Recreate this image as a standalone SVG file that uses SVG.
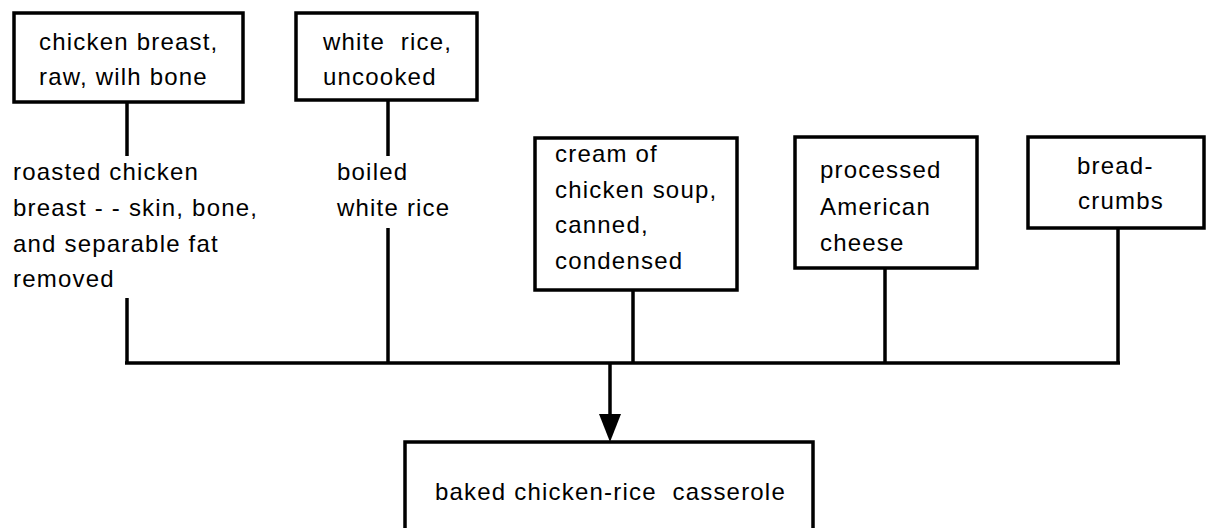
<svg xmlns="http://www.w3.org/2000/svg" width="1208" height="528" viewBox="0 0 1208 528">
<style>
.box{fill:#fff;stroke:#000;stroke-width:3.5}
.t{font-family:"Liberation Sans",Arial,sans-serif;font-size:24px;letter-spacing:1.2px;fill:#000;white-space:pre}
.ln{stroke:#000;stroke-width:3.5;fill:none}
.ah{fill:#000}
</style>
<rect width="1208" height="528" fill="#fff"/>
<g id="connectors">
<line class="ln" x1="127" y1="102" x2="127" y2="156"/>
<line class="ln" x1="127" y1="298" x2="127" y2="363"/>
<line class="ln" x1="388" y1="100" x2="388" y2="156"/>
<line class="ln" x1="388" y1="228" x2="388" y2="363"/>
<line class="ln" x1="633" y1="290" x2="633" y2="363"/>
<line class="ln" x1="885" y1="268" x2="885" y2="363"/>
<line class="ln" x1="1118" y1="228" x2="1118" y2="363"/>
<line class="ln" x1="125" y1="363" x2="1120" y2="363"/>
<line class="ln" x1="610" y1="363" x2="610" y2="418"/>
<polygon class="ah" points="599,414 621,414 610,442"/>
</g>
<g id="n1">
<rect class="box" x="14" y="13" width="229" height="89"/>
<text class="t" x="39" y="50">chicken breast,</text>
<text class="t" x="39" y="85">raw, wilh bone</text>
</g>
<g id="n2">
<rect class="box" x="296" y="13" width="181" height="87"/>
<text class="t" x="323" y="50">white  rice,</text>
<text class="t" x="323" y="85">uncooked</text>
</g>
<g id="n1b">
<text class="t" x="13" y="180">roasted chicken</text>
<text class="t" x="13" y="216">breast - - skin, bone,</text>
<text class="t" x="13" y="252">and separable fat</text>
<text class="t" x="13" y="287">removed</text>
</g>
<g id="n2b">
<text class="t" x="337" y="180">boiled</text>
<text class="t" x="337" y="216">white rice</text>
</g>
<g id="n3">
<rect class="box" x="535" y="138" width="202" height="152"/>
<text class="t" x="555" y="162">cream of</text>
<text class="t" x="555" y="198">chicken soup,</text>
<text class="t" x="555" y="233">canned,</text>
<text class="t" x="555" y="269">condensed</text>
</g>
<g id="n4">
<rect class="box" x="795" y="137" width="182" height="131"/>
<text class="t" x="820" y="178">processed</text>
<text class="t" x="820" y="215">American</text>
<text class="t" x="820" y="251">cheese</text>
</g>
<g id="n5">
<rect class="box" x="1028" y="137" width="176" height="91"/>
<text class="t" x="1077" y="174">bread-</text>
<text class="t" x="1078" y="209">crumbs</text>
</g>
<g id="n6">
<rect class="box" x="405" y="442" width="408" height="100"/>
<text class="t" x="435" y="500">baked chicken-rice  casserole</text>
</g>
</svg>
